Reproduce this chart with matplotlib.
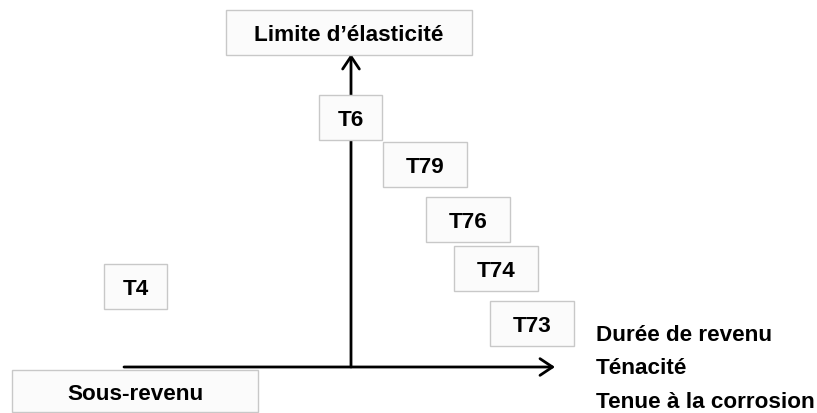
import matplotlib
matplotlib.use('Agg')
import matplotlib.pyplot as plt
from matplotlib.patches import Rectangle

plt.rcParams['font.family'] = ['Liberation Sans', 'DejaVu Sans']
plt.rcParams['font.weight'] = 'bold'

# traitements thermiques : position sur l'axe "durée de revenu" (x) et "limite d'élasticité" (y)
traitements = ['T4', 'T6', 'T79', 'T76', 'T74', 'T73']
duree_revenu = [-215, 0, 74, 117, 145, 181]
limite_elast = [81, 250, 203, 148, 99, 44]

titre_y = "Limite d\u2019élasticité"
titre_gauche = 'Sous-revenu'
titres_x = ['Durée de revenu', 'Ténacité', 'Tenue à la corrosion']

FS = 16.2
BOX_FC = '#fbfbfb'
BOX_EC = '#c8c8c8'

fig = plt.figure(figsize=(8.17, 4.14), dpi=100)
ax = fig.add_axes([0, 0, 1, 1])
ax.set_xlim(-351, 466)
ax.set_ylim(-46, 368)
ax.axis('off')


def boite(cx, cy, w, h, txt, dy=-8):
    ax.add_patch(Rectangle((cx - w / 2, cy - h / 2), w, h, fc=BOX_FC, ec=BOX_EC, lw=1, zorder=3))
    ax.text(cx, cy + dy, txt, ha='center', va='baseline', fontsize=FS, fontweight='bold', zorder=4)


# axes avec flèches
arrow = dict(arrowstyle='->,head_length=0.45,head_width=0.3', lw=2, color='black',
             mutation_scale=20, shrinkA=0, shrinkB=0)
ax.annotate('', xy=(204, 0), xytext=(-227, 0), arrowprops=arrow)
ax.annotate('', xy=(0, 313), xytext=(0, 0), arrowprops=arrow)

# boîtes des traitements
for t, x, y in zip(traitements, duree_revenu, limite_elast):
    boite(x, y, 21 + 21 * len(t), 45, t)

# titres
boite(-2, 335, 246, 45, titre_y)
boite(-216, -24, 246, 42, titre_gauche)

for i, t in enumerate(titres_x):
    ax.text(245, 27 - 33.5 * i, t, ha='left', va='baseline', fontsize=FS, fontweight='bold')

fig.savefig('out.png', dpi=100)
